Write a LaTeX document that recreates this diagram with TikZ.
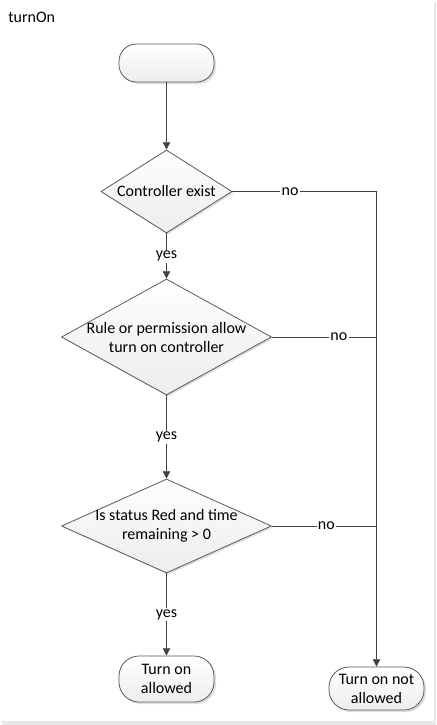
\documentclass[tikz,border=0pt]{standalone}
\usepackage{fontspec}
\setmainfont{Carlito}
\usetikzlibrary{shapes.geometric,shadows,arrows.meta}
\definecolor{edge}{HTML}{5A5A5A}
\definecolor{wire}{HTML}{404040}
\definecolor{frame}{HTML}{E6E6E6}
\tikzset{
  x=0.75pt, y=-0.75pt,
  every node/.style={font=\fontsize{12pt}{14.25pt}\selectfont, text=black},
  dia/.style={shape=diamond, draw=edge, line width=0.6pt, inner sep=0pt,
    top color=white, bottom color=black!7, middle color=black!4,
    drop shadow={shadow xshift=1.2pt, shadow yshift=-1.2pt, fill=black!25, opacity=0.5}},
  term/.style={shape=rectangle, draw=edge, line width=0.6pt, inner sep=0pt,
    minimum width=71.25pt, align=center,
    top color=white, bottom color=black!7,
    drop shadow={shadow xshift=1.5pt, shadow yshift=-1.5pt, fill=black!25, opacity=0.5}},
  txt/.style={align=center, inner sep=0pt},
  lab/.style={fill=white, inner sep=1pt},
  flow/.style={draw=wire, line width=0.6pt},
  arr/.style={flow, -{Triangle[length=5.5pt, width=5.5pt]}},
}
\begin{document}
\begin{tikzpicture}
\useasboundingbox (0,0) rectangle (436,725);
\fill[frame] (2,2) rectangle (436,725);
\fill[white] (0,0) rectangle (434,721);

\node[anchor=west, inner sep=0pt] (title) at (8,17) {turnOn};

\node[term, minimum height=28.5pt, rounded corners=13pt] (start) at (166.5,63) {};

\node[dia, minimum width=98.25pt, minimum height=62.25pt] (d1) at (166.5,191.5) {};
\node[txt] (t1) at (d1) {Controller exist};

\node[dia, minimum width=157.5pt, minimum height=87pt] (d2) at (166.5,337) {};
\node[txt] (t2) at (d2) {Rule or permission allow\\turn on controller};

\node[dia, minimum width=157.5pt, minimum height=70.5pt] (d3) at (166.5,526) {};
\node[txt] (t3) at (d3) {Is status Red and time\\remaining > 0};

\node[term, minimum height=34.5pt, rounded corners=15pt] (ok) at (166.5,679) {Turn on\\allowed};
\node[term, minimum height=32.25pt, rounded corners=15pt] (nok) at (376.5,688.5) {Turn on not\\allowed};

\draw[arr] (start) -- (d1);
\draw[arr] (d1) -- node[lab] {yes} (d2);
\draw[arr] (d2) -- node[lab] {yes} (d3);
\draw[arr] (d3) -- node[lab] {yes} (ok);

\coordinate (j1) at (d1.east -| nok.north);
\coordinate (j2) at (d2.east -| nok.north);
\coordinate (j3) at (d3.east -| nok.north);
\draw[flow] (d1.east) -- node[lab, pos=0.4] {no} (j1);
\draw[flow] (d2.east) -- node[lab, pos=0.64] {no} (j2);
\draw[flow] (d3.east) -- node[lab, pos=0.52] {no} (j3);
\draw[arr] (j1) -- (nok.north);
\end{tikzpicture}
\end{document}
